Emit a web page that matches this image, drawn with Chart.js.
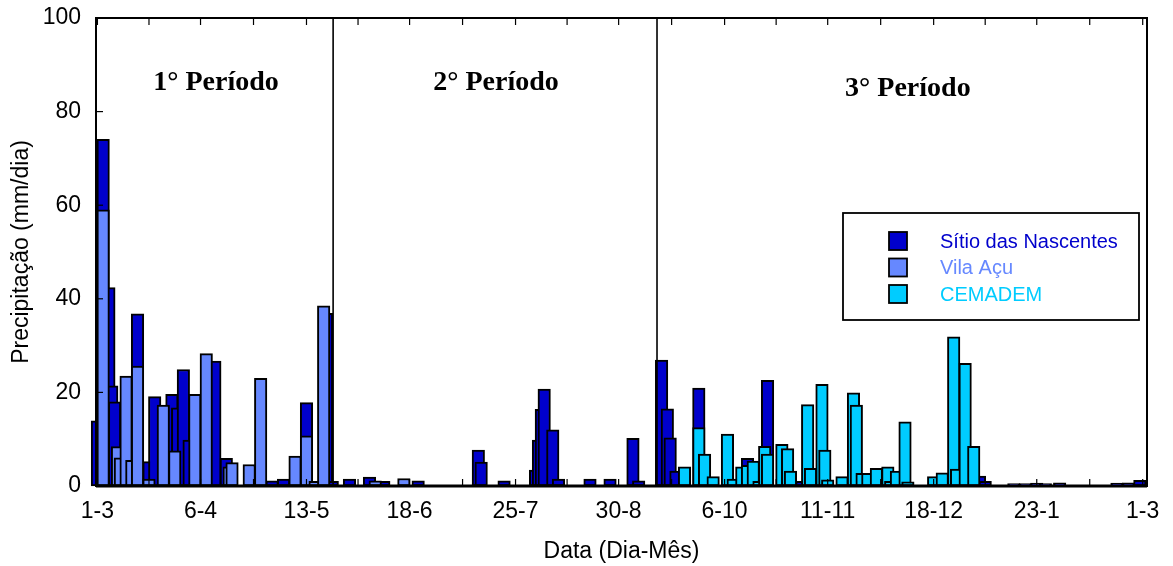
<!DOCTYPE html>
<html>
<head>
<meta charset="utf-8">
<script src="https://cdn.jsdelivr.net/npm/chart.js@4.4.1/dist/chart.umd.min.js"></script>
<style>
  html, body { margin: 0; padding: 0; background: #fff; }
  #chart { display: block; }
</style>
</head>
<body>
<canvas id="chart" width="1173" height="566"></canvas>
<script>
// ---- data (x = days since 1 March) ----
const tickDays = [0, 36, 73, 109, 146, 182, 219, 255, 292, 328, 365];
const tickLabels = ['1-3', '6-4', '13-5', '18-6', '25-7', '30-8', '6-10', '11-11', '18-12', '23-1', '1-3'];

const sitioDays = [0, 2, 4, 5, 6, 14, 18, 20, 26, 28, 30, 32, 41, 45, 61, 65, 73, 80,
	82, 88, 95, 100, 112, 133, 134, 142, 153, 154, 155, 156, 159, 161, 172, 179, 187, 189,
	197, 199, 200, 202, 210, 227, 234, 246, 308, 310, 320, 324, 328, 331, 336, 356, 360, 364];
const sitioMm = [13.9, 74.1, 42.4, 21.4, 18.0, 36.8, 5.2, 19.1, 19.6, 16.7, 24.9, 9.8, 26.7, 5.9, 1.1, 1.5, 17.8, 36.9,
	1.0, 1.5, 1.9, 1.0, 1.1, 7.7, 5.1, 1.1, 3.4, 9.8, 16.4, 20.7, 12.0, 1.5, 1.5, 1.5, 10.2, 1.1,
	26.9, 16.5, 10.3, 3.2, 20.9, 5.9, 22.6, 1.0, 2.1, 1.0, 0.5, 0.5, 0.6, 0.5, 0.7, 0.6, 0.7, 1.2];

const vilaDays = [2, 7, 8, 10, 12, 14, 18, 23, 27, 34, 38, 46, 47, 53, 57, 69, 73, 76, 79, 97, 107];
const vilaMm = [59.0, 8.4, 6.0, 23.5, 5.5, 25.6, 1.5, 17.3, 7.5, 19.6, 28.3, 4.1, 5.0, 4.6, 23.0, 6.4, 10.7, 1.0, 38.5, 1.1, 1.6];

const cemademDays = [205, 210, 212, 215, 220, 222, 225, 227, 229, 231, 233, 234, 239, 241, 242, 248, 249, 253, 254, 255,
	260, 264, 265, 267, 269, 272, 276, 277, 279, 282, 283, 292, 295, 299, 300, 303, 306];
const cemademMm = [4.1, 12.5, 6.8, 2.0, 11.1, 1.5, 4.1, 4.4, 5.3, 1.0, 8.5, 6.8, 8.9, 8.0, 3.2, 17.4, 3.8, 21.7, 7.7, 1.3,
	2.0, 19.9, 17.3, 2.7, 2.7, 3.8, 4.1, 1.0, 3.2, 13.7, 0.9, 2.0, 2.8, 31.9, 3.6, 26.2, 8.5];

const periodLines = [82.3, 195.4];
const periodNames = ['1° Período', '2° Período', '3° Período'];
const periodLabelAt = [[41.4, 86.2], [139.2, 86.2], [283, 84.9]];

const seriesNames = ['Sítio das Nascentes', 'Vila Açu', 'CEMADEM'];
const seriesColors = ['#0000cc', '#6688ff', '#00ccff'];

const SANS = '"Liberation Sans", Arial, sans-serif';
const SERIF = '"Liberation Serif", "Times New Roman", serif';

const toPoints = (days, mm) => days.map((d, i) => ({ x: d, y: mm[i] }));

// inward ticks, period separators, frame, period titles and boxed legend
const framePlugin = {
	id: 'frame',
	afterDatasetsDraw(chart) {
		const { ctx, chartArea: a, scales: { x, y } } = chart;
		const line = (x1, y1, x2, y2) => {
			ctx.beginPath();
			ctx.moveTo(x1, y1);
			ctx.lineTo(x2, y2);
			ctx.stroke();
		};
		ctx.save();
		ctx.strokeStyle = '#000';

		// x ticks: labelled days plus midpoints, on top and bottom, pointing in
		ctx.lineWidth = 1.2;
		const minor = tickDays.slice(1).map((d, i) => (d + tickDays[i]) / 2);
		[...tickDays, ...minor].forEach((d) => {
			const px = x.getPixelForValue(d);
			line(px, a.top, px, a.top + 7);
			line(px, a.bottom, px, a.bottom - 7);
		});
		// y ticks
		[0, 20, 40, 60, 80, 100].forEach((v) => {
			const py = y.getPixelForValue(v);
			line(a.left, py, a.left + 7, py);
		});

		// period separators
		ctx.lineWidth = 1.6;
		periodLines.forEach((d) => {
			const px = x.getPixelForValue(d);
			line(px, a.top, px, a.bottom);
		});

		// frame
		ctx.lineWidth = 2;
		ctx.strokeRect(a.left, a.top, a.right - a.left, a.bottom - a.top);
		ctx.lineWidth = 3;
		line(a.left, a.bottom, a.right, a.bottom);

		// period titles
		ctx.fillStyle = '#000';
		ctx.font = 'bold 28px ' + SERIF;
		ctx.textAlign = 'center';
		ctx.textBaseline = 'middle';
		periodNames.forEach((name, i) => {
			const [d, v] = periodLabelAt[i];
			ctx.fillText(name, x.getPixelForValue(d), y.getPixelForValue(v));
		});

		// legend box
		const bx = a.right - 304, by = a.top + 195, bw = 296, bh = 107;
		ctx.lineWidth = 1.8;
		ctx.strokeRect(bx, by, bw, bh);
		ctx.font = '20px ' + SANS;
		ctx.textAlign = 'left';
		seriesNames.forEach((name, i) => {
			const cy = by + 28 + i * 26.5;
			ctx.fillStyle = seriesColors[i];
			ctx.fillRect(bx + 46, cy - 9, 18, 18);
			ctx.lineWidth = 1.8;
			ctx.strokeRect(bx + 46, cy - 9, 18, 18);
			ctx.fillText(name, bx + 97, cy + 1);
		});
		ctx.restore();
	},
};

const barStyle = {
	borderColor: '#000',
	borderWidth: 2,
	borderSkipped: false,
	barThickness: 12.5,
	grouped: false,
	clip: false,
};

new Chart(document.getElementById('chart'), {
	type: 'bar',
	data: {
		datasets: [
			{ label: seriesNames[0], data: toPoints(sitioDays, sitioMm), backgroundColor: seriesColors[0], order: 3, ...barStyle },
			{ label: seriesNames[1], data: toPoints(vilaDays, vilaMm), backgroundColor: seriesColors[1], order: 2, ...barStyle },
			{ label: seriesNames[2], data: toPoints(cemademDays, cemademMm), backgroundColor: seriesColors[2], order: 1, ...barStyle },
		],
	},
	options: {
		responsive: false,
		animation: false,
		devicePixelRatio: 1,
		layout: { padding: { top: 18, right: 26, left: 0, bottom: 0 } },
		plugins: {
			legend: { display: false },
			tooltip: { enabled: false },
		},
		scales: {
			x: {
				type: 'linear',
				offset: false,
				min: -0.5,
				max: 366.5,
				grid: { display: false, drawTicks: false },
				border: { display: false },
				afterBuildTicks: (scale) => {
					scale.ticks = tickDays.map((d) => ({ value: d }));
				},
				afterFit: (scale) => {
					scale.height = 80;
				},
				ticks: {
					autoSkip: false,
					maxRotation: 0,
					padding: 12,
					color: '#000',
					font: { family: SANS, size: 23 },
					callback: (v) => tickLabels[tickDays.indexOf(v)],
				},
				title: {
					display: true,
					text: 'Data (Dia-Mês)',
					color: '#000',
					font: { family: SANS, size: 23 },
					padding: { top: 0, bottom: 1 },
				},
			},
			y: {
				min: 0,
				max: 100,
				grid: { display: false, drawTicks: false },
				border: { display: false },
				afterFit: (scale) => {
					scale.width = 96;
					scale.paddingTop = 0;
					scale.paddingBottom = 0;
				},
				ticks: {
					stepSize: 20,
					padding: 15,
					color: '#000',
					font: { family: SANS, size: 23 },
				},
				title: {
					display: true,
					text: 'Precipitação (mm/dia)',
					color: '#000',
					font: { family: SANS, size: 23 },
					padding: { top: 8, bottom: 0 },
				},
			},
		},
	},
	plugins: [framePlugin],
});
</script>
</body>
</html>
